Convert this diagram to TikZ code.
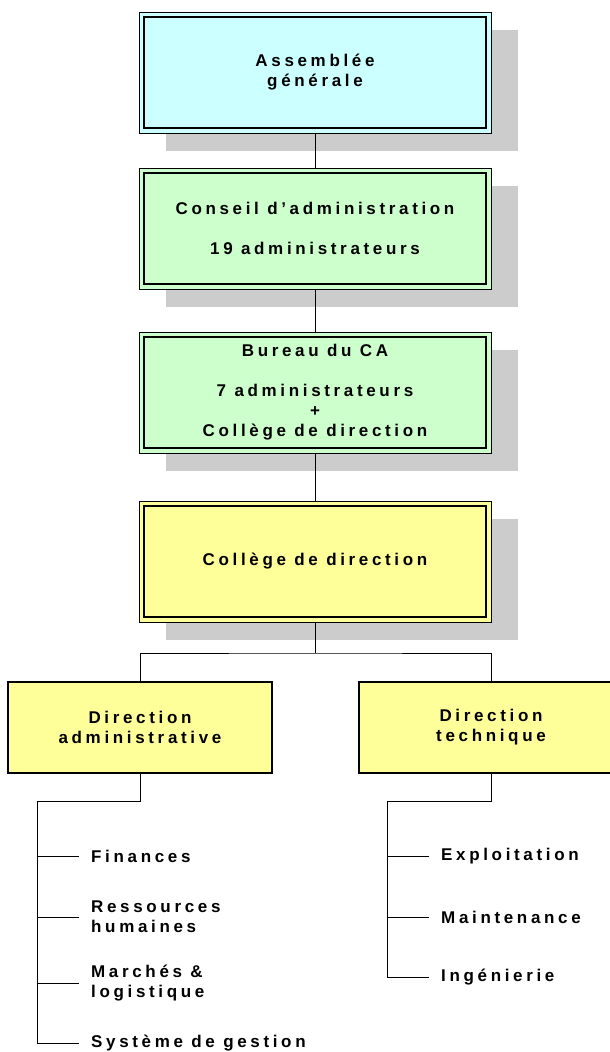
\documentclass[tikz,border=0pt]{standalone}
\usepackage{fontspec}
\setmainfont{Liberation Sans}[LetterSpace=21.5]
\usetikzlibrary{shadows}
\definecolor{agfill}{HTML}{CCFFFF}
\definecolor{cafill}{HTML}{CCFFCC}
\definecolor{yfill}{HTML}{FFFF99}
\definecolor{shadowgray}{HTML}{CCCCCC}
\begin{document}
\begin{tikzpicture}[x=1pt,y=-1pt,
  lbl/.style={font=\fontsize{17}{20}\selectfont\bfseries, align=center},
  mainbox/.style={lbl, draw, line width=1pt, minimum width=352pt, minimum height=121pt, inner sep=0pt,
     general shadow={fill=shadowgray, shadow xshift=27pt, shadow yshift=-18pt},
     path picture={\draw[line width=2pt] ([shift={(5pt,-5pt)}]path picture bounding box.north west) rectangle ([shift={(-5pt,5pt)}]path picture bounding box.south east);}},
  dirbox/.style={lbl, draw, line width=1.6pt, fill=yfill, minimum width=264pt, minimum height=91pt, inner sep=0pt},
  item/.style={font=\fontsize{17}{20}\selectfont\bfseries, align=left, anchor=west, inner xsep=12pt, inner ysep=0pt},
  conn/.style={line width=1pt}
]
\useasboundingbox (0,0) rectangle (610,1052);
\clip (0,0) rectangle (610,1052);

\node[mainbox, fill=agfill] (ag) at (315,72.5) {Assemblée\\générale};
\node[mainbox, fill=cafill] (ca) at (315,228.5) {Conseil d’administration\\[20pt]19 administrateurs};
\node[mainbox, fill=cafill] (bca) at (315,392.5) {Bureau du CA\\[20pt]7 administrateurs\\+\\Collège de direction};
\node[mainbox, fill=yfill] (cd) at (315,561.5) {Collège de direction};

\node[dirbox] (dadm) at (140,727.5) {Direction\\administrative};
\node[dirbox] (dtech) at (491,727.5) {Direction\\technique};

\node[item] (fin) at (79,856) {Finances};
\node[item] (rh) at (79,917) {Ressources\\humaines};
\node[item] (mar) at (79,983) {Marchés \&\\logistique};
\node[item] (sys) at (79,1043) {Système de gestion};
\node[item] (exp) at (429,856) {Exploitation};
\node[item] (mai) at (429,917) {Maintenance};
\node[item] (ing) at (429,977) {Ingénierie};

\draw[conn] (ag) -- (ca);
\draw[conn] (ca) -- (bca);
\draw[conn] (bca) -- (cd);
\coordinate (bus) at (315,653);
\draw[conn] (cd) -- (bus);
\draw[conn] (dadm.north) |- (bus) -| (dtech.north);

\coordinate (lc) at (37,801);
\draw[conn] (dadm.south) |- (lc) -- (lc |- sys.west) -- (sys.west);
\draw[conn] (lc |- fin.west) -- (fin.west);
\draw[conn] (lc |- rh.west) -- (rh.west);
\draw[conn] (lc |- mar.west) -- (mar.west);

\coordinate (rc) at (387,801);
\draw[conn] (dtech.south) |- (rc) -- (rc |- ing.west) -- (ing.west);
\draw[conn] (rc |- exp.west) -- (exp.west);
\draw[conn] (rc |- mai.west) -- (mai.west);
\end{tikzpicture}
\end{document}
